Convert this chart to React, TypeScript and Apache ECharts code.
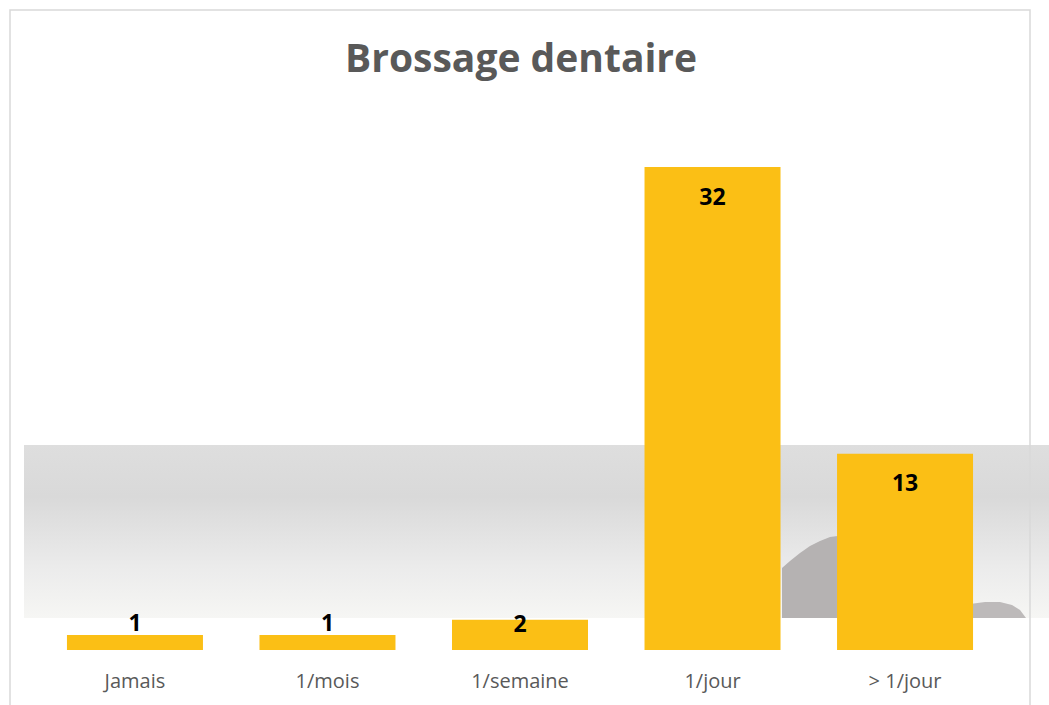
import React, { useEffect, useRef } from "react";
import * as echarts from "echarts";

const categories = ["Jamais", "1/mois", "1/semaine", "1/jour", "> 1/jour"];
const values = [1, 1, 2, 32, 13];
const titleText = "Brossage dentaire";

const FONT = "'Open Sans', 'Noto Sans', sans-serif";

function labelFor(v: number) {
  if (v >= 5) return { position: "insideTop", distance: 17 };
  if (v >= 2) return { position: "insideTop", distance: -8 };
  return { position: "top", distance: 1 };
}

export default function App() {
  const ref = useRef<HTMLDivElement>(null);
  useEffect(() => {
    if (!ref.current) return;
    const chart = echarts.init(ref.current, null, { renderer: "svg" });
    chart.setOption({
      animation: false,
      backgroundColor: "#ffffff",
      title: {
        text: titleText,
        left: 340,
        top: 32,
        textStyle: {
          fontFamily: FONT,
          fontSize: 39,
          fontWeight: "bold",
          color: "#595959",
        },
      },
      graphic: [
        {
          type: "rect",
          z: -10,
          shape: { x: 24, y: 445, width: 1025, height: 173 },
          style: {
            fill: new echarts.graphic.LinearGradient(0, 0, 0, 1, [
              { offset: 0, color: "#dedede" },
              { offset: 0.3, color: "#d9d9d9" },
              { offset: 0.7, color: "#ebebeb" },
              { offset: 1, color: "#f6f6f4" },
            ]),
          },
        },
        {
          type: "polygon",
          z: -5,
          shape: {
            points: [
              [782, 618],
              [782, 568],
              [790, 561],
              [800, 553],
              [810, 546],
              [820, 541],
              [830, 537],
              [845, 535],
              [845, 618],
            ],
          },
          style: { fill: "#b5b2b2" },
        },
        {
          type: "polygon",
          z: -5,
          shape: {
            points: [
              [970, 618],
              [970, 604],
              [985, 602],
              [1000, 602],
              [1012, 605],
              [1020, 610],
              [1026, 618],
            ],
          },
          style: { fill: "#bdbaba" },
        },
        {
          type: "rect",
          z: 100,
          shape: { x: 10, y: 10, width: 1020, height: 720 },
          style: { fill: "none", stroke: "#d9d9d9", lineWidth: 1.5 },
        },
      ],
      grid: { left: 38.7, right: 47.7, top: 167, bottom: 55, containLabel: false },
      xAxis: {
        type: "category",
        data: categories,
        axisLine: { show: false },
        axisTick: { show: false },
        axisLabel: {
          margin: 20,
          fontFamily: FONT,
          fontSize: 20,
          color: "#595959",
        },
      },
      yAxis: {
        type: "value",
        min: 0,
        max: 32,
        show: false,
        splitLine: { show: false },
      },
      series: [
        {
          type: "bar",
          barWidth: 136,
          itemStyle: { color: "#FBBF15" },
          label: {
            show: true,
            fontFamily: FONT,
            fontSize: 23,
            fontWeight: "bold",
            color: "#000000",
          },
          data: values.map((v) => ({ value: v, label: labelFor(v) })),
        },
      ],
    });
    return () => chart.dispose();
  }, []);
  return (
    <div
      ref={ref}
      style={{ position: "fixed", left: 0, top: 0, width: 1049, height: 705 }}
    />
  );
}
